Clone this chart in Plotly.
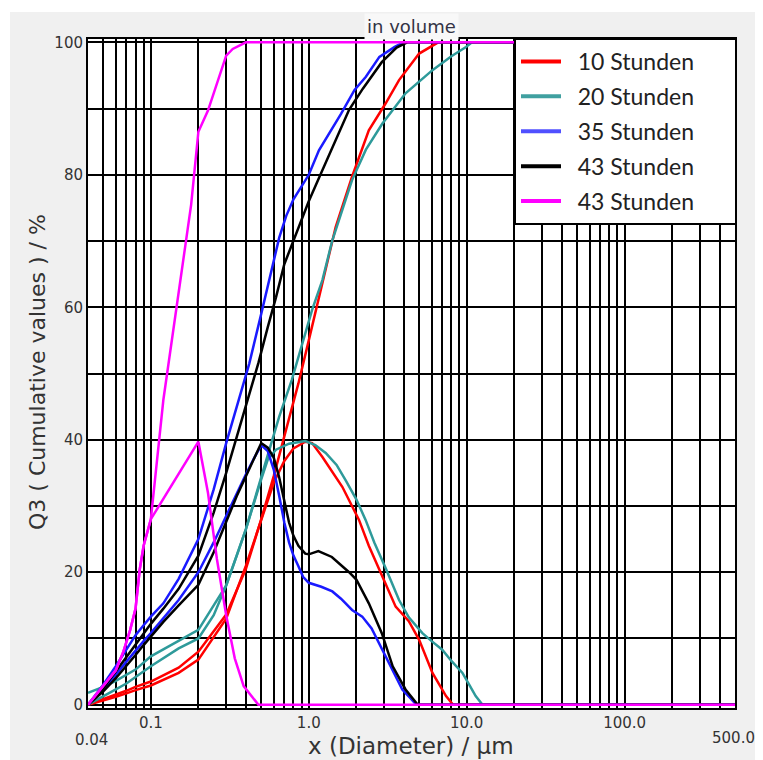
import plotly.graph_objects as go

# ---------------- data ----------------
legend_names = ["10 Stunden", "20 Stunden", "35 Stunden", "43 Stunden", "43 Stunden"]
colors = ["#ff0000", "#2e9a9a", "#1a1aff", "#000000", "#ff00ff"]
legend_colors = ["#ff0000", "#40a0a0", "#5050ff", "#000000", "#ff00ff"]

red_cum_x = [0.04, 0.05, 0.06, 0.07, 0.08, 0.1, 0.15, 0.2, 0.3, 0.4, 0.5, 0.6, 0.7, 0.86, 1.0, 1.16, 1.48, 1.88, 2.4, 3.07, 3.73, 5.0, 6.0, 6.6, 500]
red_cum_y = [0, 0.8, 1.5, 2.1, 2.7, 3.5, 5.6, 8.0, 13.6, 20.5, 28.0, 34.5, 40.5, 48.5, 55.0, 61.6, 72.1, 79.7, 86.7, 90.8, 94.3, 98.3, 99.5, 100, 100]
red_den_x = [0.04, 0.05, 0.06, 0.07, 0.08, 0.1, 0.15, 0.2, 0.3, 0.4, 0.5, 0.6, 0.7, 0.8, 0.95, 1.05, 1.22, 1.63, 2.08, 2.4, 2.92, 3.55, 4.3, 5.0, 6.07, 7.4, 8.2, 500]
red_den_y = [0, 0.6, 1.2, 1.7, 2.2, 2.9, 4.8, 6.8, 13.0, 21.0, 28.0, 33.5, 36.8, 38.7, 39.7, 39.5, 37.4, 32.9, 27.9, 24.0, 19.4, 14.8, 12.6, 9.8, 4.8, 1.3, 0, 0]

teal_cum_x = [0.04, 0.05, 0.06, 0.07, 0.08, 0.1, 0.15, 0.2, 0.25, 0.3, 0.35, 0.4, 0.53, 0.65, 0.78, 0.86, 1.05, 1.22, 1.41, 1.88, 2.3, 2.92, 4.1, 6.07, 8.0, 9.9, 10.8, 500]
teal_cum_y = [0, 1.2, 2.3, 3.2, 4.2, 5.8, 8.5, 10.0, 13.5, 18.0, 22.5, 26.5, 36.4, 43.5, 49.0, 52.5, 59.6, 64.1, 70.1, 79.2, 83.8, 87.7, 92.3, 95.8, 97.9, 99.3, 100, 100]
teal_den_x = [0.04, 0.05, 0.06, 0.07, 0.08, 0.1, 0.15, 0.2, 0.3, 0.4, 0.5, 0.55, 0.62, 0.75, 0.95, 1.1, 1.28, 1.5, 1.71, 2.0, 2.29, 2.6, 3.07, 3.73, 4.3, 5.24, 6.0, 7.0, 8.0, 9.4, 10.5, 11.4, 12.6, 500]
teal_den_y = [1.8, 2.7, 3.6, 4.5, 5.3, 7.3, 9.6, 11.3, 18.0, 26.5, 34.0, 37.0, 38.5, 39.4, 39.8, 39.2, 38.0, 36.2, 33.9, 31.0, 27.9, 24.5, 20.6, 15.8, 13.2, 10.8, 9.6, 8.3, 6.6, 4.8, 2.8, 1.3, 0, 0]

blue_cum_x = [0.04, 0.05, 0.06, 0.07, 0.08, 0.09, 0.1, 0.12, 0.15, 0.2, 0.25, 0.3, 0.35, 0.42, 0.5, 0.56, 0.65, 0.72, 0.8, 1.0, 1.16, 1.6, 1.95, 2.3, 2.8, 3.5, 4.0, 500]
blue_cum_y = [0, 3.0, 5.8, 8.3, 10.5, 12.0, 13.3, 15.3, 19.0, 25.0, 32.5, 39.5, 45.0, 51.5, 59.0, 64.0, 70.5, 73.8, 76.3, 80.0, 83.7, 89.2, 92.8, 94.8, 97.8, 99.3, 100, 100]
blue_den_x = [0.04, 0.05, 0.06, 0.07, 0.08, 0.09, 0.1, 0.12, 0.15, 0.2, 0.25, 0.3, 0.35, 0.4, 0.45, 0.5, 0.55, 0.6, 0.65, 0.7, 0.75, 0.8, 0.86, 0.92, 1.0, 1.2, 1.41, 1.6, 1.88, 2.18, 2.5, 2.78, 3.22, 3.6, 3.91, 4.4, 4.8, 500]
blue_den_y = [0, 2.5, 4.5, 6.5, 8.2, 9.6, 10.8, 13.0, 15.8, 20.0, 24.5, 28.5, 32.0, 34.8, 37.2, 39.2, 38.3, 35.5, 31.5, 27.5, 24.5, 22.5, 20.9, 19.3, 18.4, 17.8, 17.1, 16.0, 14.3, 13.3, 11.5, 9.3, 6.3, 4.0, 2.3, 1.0, 0, 0]

black_cum_x = [0.04, 0.05, 0.06, 0.07, 0.08, 0.09, 0.1, 0.12, 0.15, 0.2, 0.25, 0.3, 0.36, 0.42, 0.48, 0.55, 0.62, 0.7, 0.82, 1.0, 1.16, 1.4, 1.8, 2.2, 2.9, 3.6, 4.2, 500]
black_cum_y = [0, 2.5, 5.0, 7.2, 9.2, 10.8, 12.2, 14.5, 17.5, 22.5, 29.0, 35.0, 41.5, 47.0, 51.6, 57.0, 61.5, 66.5, 70.6, 76.0, 79.5, 84.0, 89.8, 93.0, 97.0, 99.2, 100, 100]
black_den_x = [0.04, 0.05, 0.06, 0.07, 0.08, 0.09, 0.1, 0.12, 0.15, 0.2, 0.25, 0.3, 0.35, 0.4, 0.45, 0.5, 0.55, 0.6, 0.65, 0.7, 0.75, 0.8, 0.86, 0.95, 1.0, 1.15, 1.4, 1.8, 2.0, 2.4, 2.9, 3.4, 4.1, 4.9, 500]
black_den_y = [0, 2.0, 4.0, 5.8, 7.5, 9.0, 10.3, 12.5, 15.0, 18.1, 23.0, 27.6, 31.5, 34.5, 37.2, 39.5, 38.8, 37.3, 34.3, 30.5, 27.5, 25.5, 24.0, 22.8, 22.7, 23.2, 22.3, 20.0, 18.9, 15.3, 10.8, 5.8, 2.3, 0, 0]

mag_cum_x = [0.04, 0.05, 0.06, 0.067, 0.074, 0.08, 0.085, 0.09, 0.1, 0.12, 0.15, 0.18, 0.2, 0.23, 0.3, 0.33, 0.4, 500]
mag_cum_y = [0, 2.8, 5.2, 8.0, 11.3, 14.5, 20.4, 24.0, 28.0, 46.0, 62.0, 75.5, 86.5, 89.7, 98.0, 99.0, 100, 100]
mag_den_x = [0.04, 0.05, 0.06, 0.067, 0.074, 0.08, 0.085, 0.09, 0.1, 0.2, 0.23, 0.262, 0.3, 0.34, 0.387, 0.48, 500]
mag_den_y = [0, 2.8, 5.2, 8.0, 11.3, 14.5, 20.4, 24.0, 28.0, 39.7, 32.0, 22.0, 13.5, 7.0, 2.8, 0, 0]

series = [
    (red_cum_x, red_cum_y, red_den_x, red_den_y),
    (teal_cum_x, teal_cum_y, teal_den_x, teal_den_y),
    (blue_cum_x, blue_cum_y, blue_den_x, blue_den_y),
    (black_cum_x, black_cum_y, black_den_x, black_den_y),
    (mag_cum_x, mag_cum_y, mag_den_x, mag_den_y),
]

x_grid = [0.05, 0.06, 0.07, 0.08, 0.09, 0.1, 0.2, 0.3, 0.4, 0.5, 0.6, 0.7, 0.8, 0.9,
          1, 2, 3, 4, 5, 6, 7, 8, 9, 10, 20, 30, 40, 50, 60, 70, 80, 90, 100, 200, 300, 400]
x_labels = {0.1: "0.1", 1: "1.0", 10: "10.0", 100: "100.0"}
y_grid = [0, 10, 20, 30, 40, 50, 60, 70, 80, 90, 100]
y_labels = {0: "0", 20: "20", 40: "40", 60: "60", 80: "80", 100: "100"}

# ---------------- figure ----------------
fig = go.Figure()
NB = "\u00a0"
for i, (cx, cy, dx, dy) in enumerate(series):
    grp = "g%d" % i
    fig.add_trace(go.Scatter(x=dx, y=dy, mode="lines", line=dict(color=colors[i], width=2.5),
                             legendgroup=grp, showlegend=False, hoverinfo="skip"))
    fig.add_trace(go.Scatter(x=cx, y=cy, mode="lines", line=dict(color=colors[i], width=2.5),
                             legendgroup=grp, showlegend=False, hoverinfo="skip"))
    fig.add_trace(go.Scatter(x=[None], y=[None], mode="lines",
                             name=NB * 2 + legend_names[i] + NB * 6,
                             line=dict(color=legend_colors[i], width=4), legendgroup=grp))

# the page body has an 8px margin: work in screen pixels and shift
OFF = 8
W, H = 755, 752
ml, mr, mt, mb = 80, 28, 31, 52
pw, ph = W - ml - mr, H - mt - mb


def px(xs):
    return (xs - OFF - ml) / pw


def py(ys):
    return (H - mb - (ys - OFF)) / ph


shapes = [
    dict(type="rect", xref="paper", yref="paper", x0=px(10), x1=px(775), y0=py(775), y1=py(12),
         fillcolor="#f0f0f0", line=dict(width=0), layer="below"),
    dict(type="rect", xref="paper", yref="paper", x0=0, x1=1, y0=0, y1=1,
         fillcolor="#ffffff", line=dict(width=0), layer="below"),
]

tick_font = dict(family="DejaVu Sans", size=15, color="#333333")
xtitle_font = dict(family="DejaVu Sans", size=23, color="#333333")
ytitle_font = dict(family="DejaVu Sans", size=22, color="#333333")

annotations = [
    dict(text="0.04", xref="paper", yref="paper", x=px(91), y=py(740), showarrow=False,
         font=tick_font, xanchor="center", yanchor="middle"),
    dict(text="500.0", xref="paper", yref="paper", x=px(733), y=py(738), showarrow=False,
         font=tick_font, xanchor="center", yanchor="middle"),
    dict(text="x (Diameter) / µm", xref="paper", yref="paper", x=px(411), y=py(746), showarrow=False,
         font=xtitle_font, xanchor="center", yanchor="middle"),
    dict(text="Q3 ( Cumulative values ) / %", xref="paper", yref="paper", x=px(37), y=py(372),
         showarrow=False, font=ytitle_font, textangle=-90, xanchor="center", yanchor="middle"),
    dict(text="in volume", xref="paper", yref="paper", x=px(411), y=py(27), showarrow=False,
         font=dict(family="DejaVu Sans", size=18, color="#333344"), xanchor="center",
         yanchor="middle", bgcolor="#f8f8f8", borderpad=2),
]

fig.update_layout(
    width=W, height=H,
    margin=dict(l=ml, r=mr, t=mt, b=mb, autoexpand=False),
    paper_bgcolor="#ffffff",
    plot_bgcolor="#ffffff",
    shapes=shapes,
    annotations=annotations,
    showlegend=True,
    legend=dict(x=px(737), xanchor="right", y=py(38), yanchor="top",
                bgcolor="#ffffff", bordercolor="#000000", borderwidth=2,
                font=dict(family="Lato", size=23, color="#222222"),
                tracegroupgap=2, itemwidth=40),
    xaxis=dict(type="log", range=[-1.39794, 2.69897],
               tickvals=x_grid, ticktext=[x_labels.get(v, "") for v in x_grid],
               showgrid=True, gridcolor="#000000", gridwidth=1.6,
               showline=True, mirror=True, linecolor="#000000", linewidth=2,
               ticks="", tickfont=tick_font, zeroline=False),
    yaxis=dict(range=[-0.5, 100.5],
               tickvals=y_grid, ticktext=[y_labels.get(v, "") for v in y_grid],
               showgrid=True, gridcolor="#000000", gridwidth=1.6,
               showline=True, mirror=True, linecolor="#000000", linewidth=2,
               ticks="", tickfont=tick_font, zeroline=False),
)

fig.write_html("out.html")
